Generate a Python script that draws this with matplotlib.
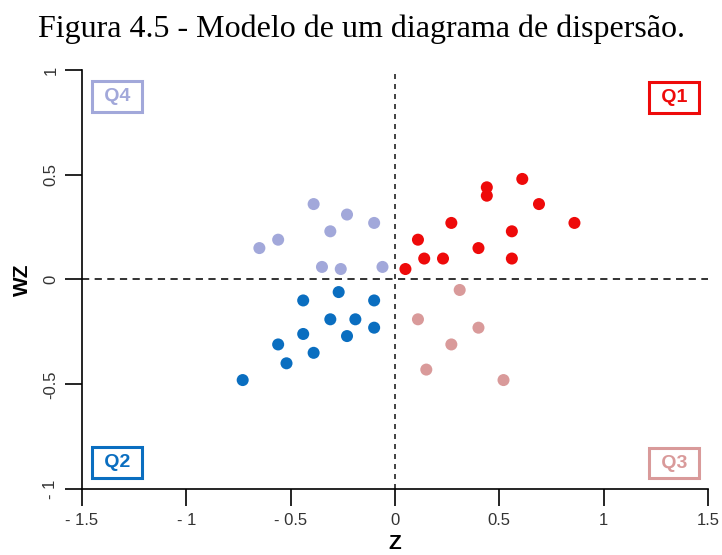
import matplotlib
matplotlib.use("Agg")
import matplotlib.pyplot as plt

# quadrant points (z, wz)
q1_z = [0.05, 0.11, 0.14, 0.23, 0.27, 0.40, 0.44, 0.44, 0.61, 0.69, 0.56, 0.56, 0.86]
q1_wz = [0.05, 0.19, 0.10, 0.10, 0.27, 0.15, 0.44, 0.40, 0.48, 0.36, 0.23, 0.10, 0.27]

q2_z = [-0.27, -0.44, -0.10, -0.31, -0.19, -0.10, -0.44, -0.23, -0.56, -0.39, -0.52, -0.73]
q2_wz = [-0.06, -0.10, -0.10, -0.19, -0.19, -0.23, -0.26, -0.27, -0.31, -0.35, -0.40, -0.48]

q3_z = [0.31, 0.11, 0.40, 0.27, 0.15, 0.52]
q3_wz = [-0.05, -0.19, -0.23, -0.31, -0.43, -0.48]

q4_z = [-0.65, -0.56, -0.39, -0.31, -0.23, -0.10, -0.35, -0.26, -0.06]
q4_wz = [0.15, 0.19, 0.36, 0.23, 0.31, 0.27, 0.06, 0.05, 0.06]

x_ticks = [-1.5, -1, -0.5, 0, 0.5, 1, 1.5]
x_labels = ["- 1.5", "- 1", "- 0.5", "0", "0.5", "1", "1.5"]
y_ticks = [-1, -0.5, 0, 0.5, 1]
y_labels = ["- 1", "-0.5", "0", "0.5", "1"]

c_q1 = "#EE0A0A"
c_q2 = "#0A6EC0"
c_q3 = "#D99A9A"
c_q4 = "#A2A8DA"


def do_plot():
    f = plt.figure(figsize=(7.22, 5.55), dpi=100)
    ax = f.add_axes([0.1136, 0.1189, 0.867, 0.755])

    for zs, ws, c in [(q1_z, q1_wz, c_q1), (q2_z, q2_wz, c_q2),
                      (q3_z, q3_wz, c_q3), (q4_z, q4_wz, c_q4)]:
        ax.scatter(zs, ws, s=75, color=c, edgecolors="none", zorder=3)

    ax.axhline(0, color="#222222", lw=1.3, linestyle=(0, (4, 3)), zorder=1)
    ax.axvline(0, color="#222222", lw=1.2, linestyle=(0, (3, 3)), zorder=1)

    ax.set_xlim(-1.5, 1.5)
    ax.set_ylim(-1, 1)
    ax.spines["top"].set_visible(False)
    ax.spines["right"].set_visible(False)
    ax.spines["left"].set_linewidth(1.2)
    ax.spines["bottom"].set_linewidth(1.2)

    ax.set_xticks(x_ticks)
    ax.set_xticklabels(x_labels, family="Liberation Sans", fontsize=12, color="#333333")
    ax.set_yticks(y_ticks)
    ax.set_yticklabels(y_labels, family="Liberation Sans", fontsize=12, color="#333333",
                       rotation=90, va="center")
    ax.tick_params(length=12, width=1.2, direction="out", pad=5)

    ax.set_ylabel("WZ", family="Liberation Sans", fontsize=15, fontweight="bold", labelpad=8)
    f.text(0.547, 0.02, "Z", family="Liberation Sans", fontsize=15, fontweight="bold",
           ha="center", va="center")

    for label, xa, ya, c in [("Q4", 0.056, 0.936, c_q4), ("Q1", 0.946, 0.935, c_q1),
                             ("Q2", 0.056, 0.063, c_q2), ("Q3", 0.946, 0.062, c_q3)]:
        ax.text(xa, ya, " " + label + " ", transform=ax.transAxes, ha="center", va="center",
                family="Liberation Sans", fontsize=14, fontweight="bold", color=c,
                bbox=dict(boxstyle="square,pad=0.35", fc="white", ec=c, lw=2.2))

    f.text(0.5, 0.948, "Figura 4.5 - Modelo de um diagrama de dispersão.",
           family="Liberation Serif", fontsize=23, ha="center", va="center")

    plt.savefig("out.png", dpi=100)


if __name__ == '__main__':
    do_plot()
